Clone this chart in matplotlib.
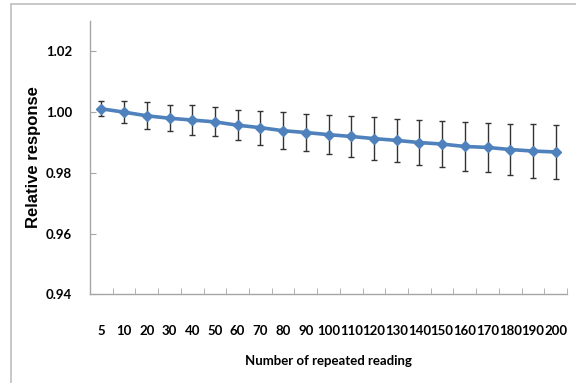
import matplotlib
matplotlib.use("Agg")
import matplotlib.pyplot as plt
from matplotlib.patches import Rectangle
import numpy as np

readings = ["5", "10", "20", "30", "40", "50", "60", "70", "80", "90", "100",
            "110", "120", "130", "140", "150", "160", "170", "180", "190", "200"]
response = [1.0011, 1.0000, 0.9988, 0.9980, 0.9974, 0.9968, 0.9957, 0.9949,
            0.9939, 0.9933, 0.9926, 0.9920, 0.9913, 0.9907, 0.9900, 0.9895,
            0.9887, 0.9884, 0.9877, 0.9872, 0.9869]
errors = [0.0025, 0.0037, 0.0044, 0.0043, 0.0048, 0.0048, 0.0050, 0.0056,
          0.0061, 0.0061, 0.0065, 0.0068, 0.0070, 0.0071, 0.0074, 0.0077,
          0.0080, 0.0081, 0.0084, 0.0088, 0.0089]
y_ticks = [0.94, 0.96, 0.98, 1.00, 1.02]

fig = plt.figure(figsize=(5.76, 3.83), dpi=100)
ax = fig.add_axes([0.1563, 0.2311, 0.8281, 0.7141])

# outer chart border (only top and left visible in the crop)
fig.patches.append(Rectangle((11 / 576, -0.2), 1.2, (383 - 4) / 383 + 0.2,
                             transform=fig.transFigure, fill=False,
                             edgecolor="#BFBFBF", linewidth=1.2))

x = np.arange(len(readings))
ax.errorbar(x, response, yerr=errors, fmt="none", ecolor="#333333",
            elinewidth=1.0, capsize=2.5, capthick=1.0, zorder=2)
ax.plot(x, response, color="#4F81BD", linewidth=2.6, marker="D",
        markersize=5, markeredgecolor="#4F81BD", zorder=3)

ax.set_xlim(-0.5, len(readings) - 0.5)
ax.set_ylim(0.94, 1.03)
ax.set_yticks(y_ticks)
ax.set_yticklabels([f"{v:.2f}" for v in y_ticks])
ax.set_xticks(x)
ax.set_xticklabels(readings)
ax.set_xticks(np.arange(-0.5, len(readings)), minor=True)

for s in ["top", "right"]:
    ax.spines[s].set_visible(False)
for s in ["left", "bottom"]:
    ax.spines[s].set_color("#A6A6A6")
    ax.spines[s].set_linewidth(1.0)

ax.tick_params(axis="x", which="major", length=0, pad=22)
ax.tick_params(axis="x", which="minor", direction="in", length=4,
               color="#A6A6A6")
ax.tick_params(axis="y", direction="in", length=4, color="#A6A6A6", pad=13)

for lab in ax.get_xticklabels() + ax.get_yticklabels():
    lab.set_fontfamily("Lato")
    lab.set_fontweight("bold")
    lab.set_fontsize(9.5)

ax.set_xlabel("Number of repeated reading", fontfamily="Lato",
              fontweight="bold", fontsize=9.5, labelpad=13)
# y label placed explicitly so it is centred on the plot area like the original
fig.text(34 / 576, (383 - 157.5) / 383, "Relative response",
         rotation=90, ha="center", va="center",
         fontfamily="Liberation Sans", fontweight="bold", fontsize=12)

fig.savefig("out.png", dpi=100)
